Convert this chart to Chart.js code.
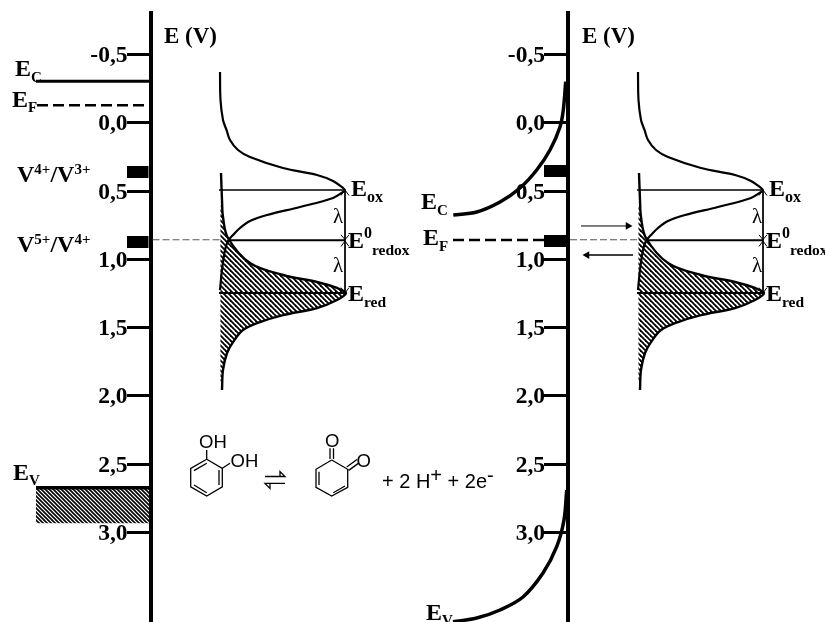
<!DOCTYPE html>
<html><head><meta charset="utf-8">
<style>html,body{margin:0;padding:0;background:#fff}canvas{display:block}</style>
<script src="https://cdn.jsdelivr.net/npm/chart.js@4"></script>
</head><body><canvas id="c" width="825" height="622"></canvas>
<script>
// Potential scale (V) and its labels
const tickValues = [-0.5, 0, 0.5, 1, 1.5, 2, 2.5, 3];
const tickLabels = ['-0,5','0,0','0,5','1,0','1,5','2,0','2,5','3,0'];
// Redox levels (V)
const levelOx = 0.493, levelRedox = 0.861, levelRed = 1.247;
// Density-of-states curves: density (arbitrary x units) vs potential (V)
const oxDensity = [1,1.5,4,7.5,11,19,31,64,98,114,124,126,124,114,81,48,31,21,14,9,6,3,1];
const oxEnergy  = [-0.371,-0.166,-0.02,0.053,0.127,0.200,0.251,0.332,0.383,0.427,0.478,0.493,0.507,0.551,0.617,0.676,0.720,0.771,0.822,0.866,0.932,1.078,1.225];
const redDensity = [2,3,4,9,31,64,98,118,127,118,98,64,41,24,14,8,4,3];
const redEnergy  = [0.368,0.566,0.690,0.844,1.027,1.115,1.166,1.210,1.247,1.298,1.357,1.408,1.459,1.518,1.606,1.686,1.810,1.957];
// Outline of the occupied (hatched) part of the red distribution
const occDensity = [1.5,4,9,31,64,98,118,127,118,98,64,41,24,14,8,4,3,1.5];
const occEnergy  = [0.600,0.690,0.844,1.027,1.115,1.166,1.210,1.247,1.298,1.357,1.408,1.459,1.518,1.606,1.686,1.810,1.890,1.890];
// Band edges, right panel (bent bands)
const ecBentX = [565.7,563.3,560,550,536.7,520,500,476.7,453.3];
const ecBentE = [-0.301,-0.093,0.031,0.200,0.346,0.478,0.581,0.654,0.676];
const evBentX = [566.7,564,556.7,543,523,500,476.7,453];
const evBentE = [2.689,2.908,3.104,3.297,3.472,3.567,3.626,3.653];
// Flat-band levels, left panel (V)
const bandEc = -0.303, bandEf = -0.127, bandEv = 2.672, bandEvBottom = 2.933, rightEf = 0.859;
// Vanadium states (V)
const v43 = [0.317,0.405], v54 = [0.829,0.917];
// Molecule strokes: [x, E] pairs
const catecholStrokes = [
 [[206.7,2.464],[222.3,2.530],[222.3,2.665],[206.7,2.733],[190.7,2.665],[190.7,2.530],[206.7,2.464]],
 [[206.7,2.464],[206.7,2.396]], [[222.3,2.530],[230,2.493]],
 [[194,2.547],[206.7,2.493]], [[219,2.542],[219,2.652]], [[194,2.652],[206.7,2.709]]
];
const quinoneStrokes = [
 [[331.7,2.469],[347.7,2.537],[347.7,2.669],[331.7,2.733],[316,2.669],[316,2.537],[331.7,2.469]],
 [[330,2.384],[330,2.462]], [[333.5,2.384],[333.5,2.462]],
 [[346.7,2.520],[357,2.465]], [[348.7,2.545],[359,2.490]],
 [[319,2.555],[319,2.652]], [[333.3,2.709],[345,2.659]]
];
const equilibriumStrokes = [
 [[265,2.590],[285,2.590],[280,2.553],[280,2.590]], [[285,2.640],[265,2.640],[270,2.677],[270,2.640]]
];
// Geometry of the two panels on the x scale
const axisLeft = 150.5, axisRight = 568, baseLeft = 219, baseRight = 637;

const zip = (xs, ys, dx = 0) => xs.map((x, i) => ({x: x + dx, y: ys[i]}));
const strokes = list => list.flatMap(s => s.map(p => ({x: p[0], y: p[1]})).concat([{x: null, y: null}]));
const hLine = (x0, x1, y) => [{x: x0, y}, {x: x1, y}];
const rect = (x0, x1, y0, y1) => [{x:x0,y:y0},{x:x1,y:y0},{x:x1,y:y1},{x:x0,y:y1}];

function hatch(p, w) {
  const t = document.createElement('canvas'); t.width = t.height = p;
  const g = t.getContext('2d');
  g.strokeStyle = '#000'; g.lineWidth = w;
  [[0,0,p,p],[-p/2,p/2,p/2,p*1.5],[p/2,-p/2,p*1.5,p/2]].forEach(l => { g.beginPath(); g.moveTo(l[0],l[1]); g.lineTo(l[2],l[3]); g.stroke(); });
  return document.getElementById('c').getContext('2d').createPattern(t, 'repeat');
}
const bandPattern = hatch(4, 1.6);
const dosPattern = hatch(5, 1.8);

const line = (data, w, extra = {}) => Object.assign({
  type: 'scatter', data, showLine: true, borderColor: '#000', borderWidth: w, pointRadius: 0,
  fill: false, clip: false, tension: 0, spanGaps: false
}, extra);
const curve = (data, w) => line(data, w, {tension: 0.35});

function panel(base, axis) {
  const dx = base;
  const lvl = [levelOx, levelRedox, levelRed];
  const ax = base + 126;
  const chev = [
    [[ax-4,levelOx+0.04],[ax,levelOx],[ax+4,levelOx+0.04]],
    [[ax-4,levelRedox-0.04],[ax,levelRedox-0.005],[ax+4,levelRedox-0.04]],
    [[ax-4,levelRedox+0.045],[ax,levelRedox+0.005],[ax+4,levelRedox+0.045]],
    [[ax-4,levelRed-0.04],[ax,levelRed],[ax+4,levelRed-0.04]]
  ];
  return [
    line(zip(occDensity, occEnergy, dx), 0, {fill: 'shape', backgroundColor: dosPattern, borderColor: 'transparent', tension: 0.25}),
    curve(zip(oxDensity, oxEnergy, dx), 2.2),
    curve(zip(redDensity, redEnergy, dx), 2.4),
    line(hLine(base, base + 126, lvl[0]), 1.5),
    line(hLine(base + 11, base + 126, lvl[1]), 2),
    line(hLine(base, base + 127, lvl[2]), 2),
    line([{x: ax, y: levelOx}, {x: ax, y: levelRed}], 1),
    line(strokes(chev), 1),
    line(hLine(axis + 2, base + 3, 0.857), 1.2, {borderColor: '#555', borderDash: [7, 3]})
  ];
}

const datasets = [
  // left semiconductor
  line(hLine(36, axisLeft, bandEc), 3),
  line(hLine(37, 147, bandEf), 2.5, {borderDash: [11, 5]}),
  line(hLine(36, axisLeft, bandEv), 3.5),
  line(rect(36, 149, bandEv, bandEvBottom), 0, {fill: 'shape', backgroundColor: bandPattern, borderColor: 'transparent'}),
  line(rect(127, 148.5, v43[0], v43[1]), 0, {fill: 'shape', backgroundColor: '#000', borderColor: '#000'}),
  line(rect(127, 148.5, v54[0], v54[1]), 0, {fill: 'shape', backgroundColor: '#000', borderColor: '#000'}),
  // right semiconductor
  curve(zip(ecBentX, ecBentE), 3.5),
  curve(zip(evBentX, evBentE), 3.5),
  line(hLine(453, 544, rightEf), 2.5, {borderDash: [11, 5]}),
  line(rect(544, 566, v43[0] - 0.007, v43[1] - 0.007), 0, {fill: 'shape', backgroundColor: '#000', borderColor: '#000'}),
  line(rect(544, 566, v54[0] - 0.007, v54[1] - 0.007), 0, {fill: 'shape', backgroundColor: '#000', borderColor: '#000'}),
  // electron-transfer arrows
  line(hLine(581, 628, 0.756), 1),
  line(hLine(633, 587, 0.969), 1.5),
  {type:'scatter', data:[{x:628,y:0.756}], pointStyle:'triangle', pointRotation:90, pointRadius:4.5, backgroundColor:'#000', borderWidth:0, clip:false},
  {type:'scatter', data:[{x:587,y:0.969}], pointStyle:'triangle', pointRotation:-90, pointRadius:4.5, backgroundColor:'#000', borderWidth:0, clip:false},
  // molecules
  line(strokes(catecholStrokes), 1.3),
  line(strokes(quinoneStrokes), 1.3),
  line(strokes(equilibriumStrokes), 1.3),
  ...panel(baseLeft, axisLeft),
  ...panel(baseRight, axisRight)
];

const serif = s => `bold ${s}px "Liberation Serif"`;
const thin = s => `${s}px "Liberation Serif"`;
const sans = s => `${s}px "Liberation Sans"`;
const E = (x, y, parts) => ({x, y, parts: [['E', serif(24), 0]].concat(parts)});
function redoxLabels(o, lx) {
  return [
    E(351 + o, 196, [['ox', serif(16), 6]]),
    {x: 348 + o, y: 248, parts: [['E', serif(24), 0], ['0', serif(16), -10], ['redox', serif(15.5), 7]]},
    E(348 + o, 300.5, [['red', serif(15.5), 6]]),
    {x: lx, y: 223, parts: [['λ', thin(21), 0]]},
    {x: lx, y: 272, parts: [['λ', thin(21), 0]]},
    {x: 164 + o, y: 43, parts: [['E (V)', serif(23), 0]]}
  ];
}
const annotations = [
  E(15, 76, [['C', serif(15), 6]]),
  E(12, 107, [['F', serif(15), 5]]),
  E(13, 480, [['V', serif(15), 5]]),
  E(421, 209, [['C', serif(15), 6]]),
  E(423, 245, [['F', serif(15), 6]]),
  E(426, 620, [['V', serif(15), 5]]),
  {x: 17, y: 182, parts: [['V', serif(24), 0], ['4+', serif(15), -8], ['/V', serif(24), 0], ['3+', serif(15), -8]]},
  {x: 17, y: 252, parts: [['V', serif(24), 0], ['5+', serif(15), -8], ['/V', serif(24), 0], ['4+', serif(15), -8]]},
  ...redoxLabels(0, 333),
  ...redoxLabels(418, 752),
  {x: 199, y: 448, parts: [['OH', sans(18.5), 0]]},
  {x: 230.5, y: 466.5, parts: [['OH', sans(18.5), 0]]},
  {x: 325, y: 447, parts: [['O', sans(18.5), 0]]},
  {x: 356.5, y: 466.5, parts: [['O', sans(18.5), 0]]},
  {x: 382, y: 488, parts: [['+ 2 H', sans(20), 0], ['+', sans(20), -6], [' + 2e', sans(20), 0], ['-', sans(20), -6]]}
];

const textPlugin = {
  id: 'texts',
  afterDraw(chart) {
    const g = chart.ctx;
    g.save();
    g.fillStyle = '#000'; g.textBaseline = 'alphabetic';
    ['y', 'y2'].forEach(id => {
      const s = chart.scales[id];
      const right = chart.scales.x.getPixelForValue(id === 'y' ? 127.5 : 545);
      g.font = serif(23.5); g.textAlign = 'right';
      tickValues.forEach((v, i) => g.fillText(tickLabels[i], right, s.getPixelForValue(v) + 7.5));
    });
    g.textAlign = 'left';
    annotations.forEach(a => {
      let x = a.x;
      a.parts.forEach(p => { g.font = p[1]; g.fillText(p[0], x, a.y + p[2]); x += g.measureText(p[0]).width; });
    });
    g.restore();
  }
};

const yAxis = xPos => ({
  type: 'linear', min: -0.803, max: 3.655, reverse: true, position: {x: xPos},
  afterBuildTicks: s => { s.ticks = tickValues.map(v => ({value: v})); },
  ticks: {display: false},
  grid: {display: true, drawOnChartArea: false, drawTicks: true, tickLength: 22, tickWidth: 3, tickColor: '#000'},
  border: {display: true, color: '#000', width: 4}
});

new Chart(document.getElementById('c'), {
  type: 'scatter',
  data: {datasets},
  options: {
    responsive: false, animation: false,
    layout: {autoPadding: false, padding: {top: 13, left: 0, right: 0, bottom: 0}},
    plugins: {legend: {display: false}, tooltip: {enabled: false}, title: {display: false}},
    scales: {
      x: {type: 'linear', min: 0, max: 825, display: false},
      y: yAxis(axisLeft),
      y2: yAxis(axisRight)
    }
  },
  plugins: [textPlugin]
});
</script></body></html>
